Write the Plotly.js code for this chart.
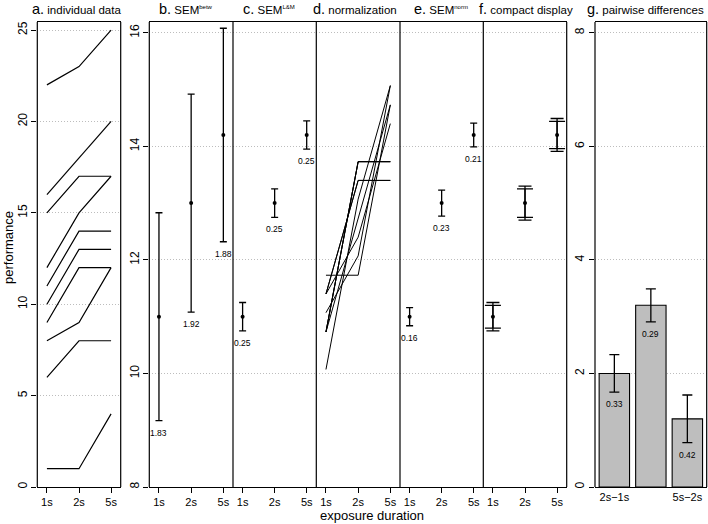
<!DOCTYPE html>
<html>
<head>
<meta charset="utf-8">
<script src="https://cdn.plot.ly/plotly-3.0.1.min.js"></script>
<style>
  html, body { margin: 0; padding: 0; background: #fff; }
  #chart { width: 708px; height: 524px; }
</style>
</head>
<body>
<div id="chart"></div>
<script>
// Seven panels: raw subject data, three SEM variants, normalized data,
// a compact display and the pairwise differences (bar chart).

const durations = ['1s', '2s', '5s'];

// a. individual data, one row per subject
const subjectData = [
  [22, 23, 25],
  [16, 18, 20],
  [15, 17, 17],
  [12, 15, 17],
  [11, 14, 14],
  [10, 13, 13],
  [9, 12, 12],
  [8, 9, 12],
  [6, 8, 8],
  [1, 1, 4]
];

const means = [11.0, 13.0, 14.2];
const semBetween = [1.83, 1.92, 1.88];
const semLM = [0.25, 0.25, 0.25];

// d. normalized data (subject mean removed, grand mean added)
const normData = [
  [11.40, 12.40, 14.40],
  [10.73, 12.73, 14.73],
  [11.40, 13.40, 13.40],
  [10.07, 13.07, 15.07],
  [10.73, 13.73, 13.73],
  [10.73, 13.73, 13.73],
  [10.73, 13.73, 13.73],
  [11.07, 12.07, 15.07],
  [11.40, 13.40, 13.40],
  [11.73, 11.73, 14.73]
];

const semNorm = [0.16, 0.23, 0.21];
const compactInner = [0.20, 0.25, 0.24];
const compactOuter = [0.25, 0.30, 0.29];

const diffLabels = ['2s\u22121s', ' ', '5s\u22122s'];
const diffValues = [2.0, 3.2, 1.2];
const diffErr = [0.33, 0.29, 0.42];

// ---- layout geometry (pixels in a 708x524 page) ----
const W = 708, H = 524;
const LW = 1.2;
const panelEdges = [
  [37.3, 120.7], [149.3, 233], [233, 316.3], [316.3, 400],
  [400, 483.3], [483.3, 566.7], [595, 706.7]
];
const titleX = [76, 186, 269, 355, 441, 526, 645];
const titles = [
  '<span style="font-size:14.5px">a.</span> individual data',
  '<span style="font-size:14.5px">b.</span> SEM<sup><span style="font-size:6px">betw</span></sup>',
  '<span style="font-size:14.5px">c.</span> SEM<sup><span style="font-size:6px">L&amp;M</span></sup>',
  '<span style="font-size:14.5px">d.</span> normalization',
  '<span style="font-size:14.5px">e.</span> SEM<sup><span style="font-size:6px">norm</span></sup>',
  '<span style="font-size:14.5px">f.</span> compact display',
  '<span style="font-size:14.5px">g.</span> pairwise differences'
];
const yDom = [1 - 487 / H, 1 - 22 / H];
const FONT = 'Liberation Sans, Arial, Helvetica, sans-serif';
const GRID = '#bdbdbd';
const idx = durations.map((d, i) => i);

function xAxis(n, opts) {
  return Object.assign({
    domain: [panelEdges[n][0] / W, panelEdges[n][1] / W],
    anchor: 'y' + (n ? n + 1 : ''),
    range: [-0.3, 2.3],
    tickmode: 'array', tickvals: idx, ticktext: durations,
    ticks: 'outside', ticklen: 5, tickwidth: 1, tickcolor: '#000',
    tickfont: { size: 11, color: '#000' },
    showline: true, mirror: true, linecolor: '#000', linewidth: LW,
    showgrid: false, zeroline: false, fixedrange: true
  }, opts || {});
}

function yAxis(n, opts) {
  return Object.assign({
    domain: yDom,
    anchor: 'x' + (n ? n + 1 : ''),
    range: [8, 16.19],
    tickmode: 'array', tickvals: [8, 10, 12, 14, 16],
    ticks: '', showticklabels: false,
    tickangle: -90, tickfont: { size: 12, color: '#000' },
    ticklen: 5, tickwidth: 1, tickcolor: '#000',
    showline: false, linecolor: '#000', linewidth: LW,
    showgrid: true, gridcolor: GRID, griddash: '1px,2px', gridwidth: 1,
    zeroline: false, fixedrange: true
  }, opts || {});
}

const traces = [];
const ax = n => ({ xaxis: 'x' + (n ? n + 1 : ''), yaxis: 'y' + (n ? n + 1 : '') });

subjectData.forEach(row => traces.push(Object.assign({
  x: idx, y: row, type: 'scatter', mode: 'lines',
  line: { color: '#000', width: 1.2 }, hoverinfo: 'skip', showlegend: false
}, ax(0))));

normData.forEach(row => traces.push(Object.assign({
  x: idx, y: row, type: 'scatter', mode: 'lines',
  line: { color: '#000', width: 1 }, hoverinfo: 'skip', showlegend: false
}, ax(3))));

function meanTrace(n, err, capHalf, withMarker) {
  return Object.assign({
    x: idx, y: means, type: 'scatter', mode: 'markers',
    marker: { color: '#000', size: withMarker ? 4 : 0.1 },
    error_y: { type: 'data', array: err, visible: true, color: '#000', thickness: 1.3, width: capHalf },
    hoverinfo: 'skip', showlegend: false
  }, ax(n));
}
traces.push(meanTrace(1, semBetween, 3.5, true));
traces.push(meanTrace(2, semLM, 3.5, true));
traces.push(meanTrace(4, semNorm, 3.5, true));
traces.push(meanTrace(5, compactOuter, 6.5, false));
traces.push(meanTrace(5, compactInner, 8, true));

traces.push(Object.assign({
  x: idx, y: diffValues, type: 'bar', width: 0.833,
  marker: { color: '#bebebe', line: { color: '#000', width: 1.1 } },
  error_y: { type: 'data', array: diffErr, visible: true, color: '#000', thickness: 1.3, width: 5 },
  hoverinfo: 'skip', showlegend: false
}, ax(6)));

const annotations = [];
titles.forEach((t, i) => annotations.push({
  xref: 'paper', yref: 'paper', x: titleX[i] / W, y: 1 - 9 / H,
  xanchor: 'center', yanchor: 'middle', text: t, showarrow: false,
  font: { size: 11.5, color: '#000', family: FONT }
}));

function errLabels(n, centers, errs) {
  errs.forEach((e, i) => annotations.push({
    xref: 'x' + (n + 1), yref: 'y' + (n + 1), x: i, y: centers[i] - e,
    text: e.toFixed(2), showarrow: false, yshift: -12, yanchor: 'middle',
    font: { size: 8.5, color: '#000', family: FONT }
  }));
}
errLabels(1, means, semBetween);
errLabels(2, means, semLM);
errLabels(4, means, semNorm);
errLabels(6, diffValues, diffErr);

annotations.push({
  xref: 'paper', yref: 'paper', x: 8 / W, y: 1 - 248 / H, textangle: -90,
  xanchor: 'center', yanchor: 'middle', text: 'performance', showarrow: false,
  font: { size: 13, color: '#000', family: FONT }
});
annotations.push({
  xref: 'paper', yref: 'paper', x: 372 / W, y: 1 - 515 / H,
  xanchor: 'center', yanchor: 'middle', text: 'exposure duration', showarrow: false,
  font: { size: 13, color: '#000', family: FONT }
});

// vertical frame lines: one line per border, so shared borders are not doubled
const borders = [37.3, 120.7, 149.3, 233, 316.3, 400, 483.3, 566.7, 595, 706.7];
const shapes = borders.map(b => ({
  type: 'line', xref: 'paper', yref: 'paper',
  x0: b / W, x1: b / W, y0: yDom[0], y1: yDom[1],
  line: { color: '#000', width: LW }
}));

const layout = {
  width: W, height: H,
  margin: { l: 0, r: 0, t: 0, b: 0 },
  paper_bgcolor: '#fff', plot_bgcolor: '#fff',
  font: { family: FONT, color: '#000' },
  showlegend: false,
  annotations: annotations,
  shapes: shapes,
  xaxis: xAxis(0),
  yaxis: yAxis(0, { range: [0, 25.44], tickvals: [0, 5, 10, 15, 20, 25], ticks: 'outside', showticklabels: true }),
  xaxis2: xAxis(1),
  yaxis2: yAxis(1, { ticks: 'outside', showticklabels: true }),
  xaxis3: xAxis(2),
  yaxis3: yAxis(2),
  xaxis4: xAxis(3),
  yaxis4: yAxis(3),
  xaxis5: xAxis(4),
  yaxis5: yAxis(4),
  xaxis6: xAxis(5),
  yaxis6: yAxis(5),
  xaxis7: xAxis(6, { range: [-0.53, 2.53], ticktext: diffLabels, ticks: '' }),
  yaxis7: yAxis(6, { range: [0, 8.19], tickvals: [0, 2, 4, 6, 8], ticks: 'outside', showticklabels: true })
};

Plotly.newPlot('chart', traces, layout, { staticPlot: true });
</script>
</body>
</html>
